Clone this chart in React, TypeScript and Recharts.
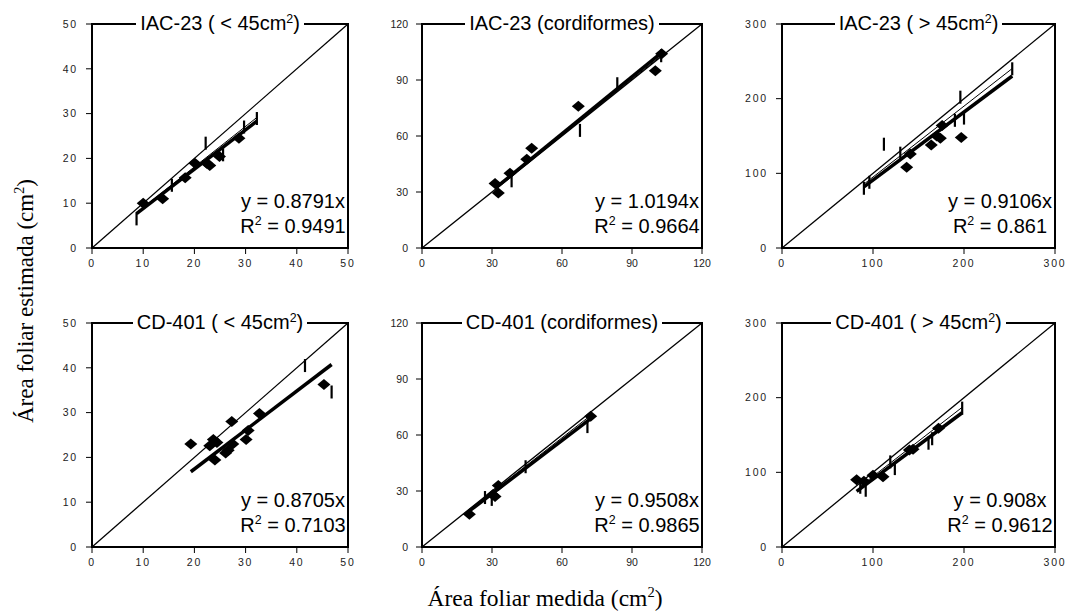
import React from "react";
import {
  ComposedChart,
  Scatter,
  XAxis,
  YAxis,
  ReferenceLine,
  ReferenceArea,
} from "recharts";

type Pt = { x: number; y: number };

// IAC-23, folhas < 45 cm2
const iacSmallLeaves: Pt[] = [
  { x: 10, y: 10 }, { x: 13.8, y: 11 }, { x: 18.2, y: 15.7 }, { x: 20.1, y: 18.9 },
  { x: 22.4, y: 18.9 }, { x: 23, y: 18.4 }, { x: 24.9, y: 20.4 }, { x: 28.7, y: 24.5 },
];
const iacSmallMarks: Pt[] = [
  { x: 8.7, y: 6.5 }, { x: 15.6, y: 14 }, { x: 22.2, y: 23.4 }, { x: 25.6, y: 20.8 },
  { x: 29.7, y: 27 }, { x: 32.2, y: 28.9 },
];

// IAC-23, cordiformes
const iacHeartLeaves: Pt[] = [
  { x: 31.3, y: 34.5 }, { x: 32.7, y: 29.5 }, { x: 37.7, y: 40 }, { x: 44.9, y: 47.5 },
  { x: 47, y: 53.5 }, { x: 67, y: 76 }, { x: 100, y: 95 }, { x: 102.7, y: 104 },
];
const iacHeartMarks: Pt[] = [
  { x: 38.4, y: 36 }, { x: 67.7, y: 63 }, { x: 83.7, y: 88 }, { x: 102.5, y: 103 },
];

// IAC-23, folhas > 45 cm2
const iacLargeLeaves: Pt[] = [
  { x: 137, y: 108 }, { x: 141, y: 126 }, { x: 164, y: 138 }, { x: 170, y: 150 },
  { x: 174, y: 147 }, { x: 176, y: 164 }, { x: 197, y: 148 },
];
const iacLargeMarks: Pt[] = [
  { x: 90, y: 80 }, { x: 96, y: 88 }, { x: 112, y: 139 }, { x: 130, y: 127 },
  { x: 190, y: 171 }, { x: 196, y: 202 }, { x: 200, y: 174 }, { x: 253, y: 240 },
];

// CD-401, folhas < 45 cm2
const cdSmallLeaves: Pt[] = [
  { x: 19.3, y: 23 }, { x: 23, y: 22.6 }, { x: 23.7, y: 24 }, { x: 24.4, y: 23.3 },
  { x: 24, y: 19.4 }, { x: 26.1, y: 21 }, { x: 26.6, y: 21.6 }, { x: 27.5, y: 23 },
  { x: 27.3, y: 28 }, { x: 30.1, y: 24 }, { x: 30.5, y: 26 }, { x: 32.7, y: 29.8 },
  { x: 45.3, y: 36.3 },
];
const cdSmallMarks: Pt[] = [
  { x: 41.6, y: 40.5 }, { x: 46.8, y: 34.6 },
];

// CD-401, cordiformes
const cdHeartLeaves: Pt[] = [
  { x: 20.3, y: 17.5 }, { x: 30.3, y: 28 }, { x: 31.3, y: 27 }, { x: 32.7, y: 33 },
  { x: 72.3, y: 70 },
];
const cdHeartMarks: Pt[] = [
  { x: 27, y: 26.5 }, { x: 29.9, y: 25.5 }, { x: 44.4, y: 43 }, { x: 70.9, y: 64.5 },
];

// CD-401, folhas > 45 cm2
const cdLargeLeaves: Pt[] = [
  { x: 82, y: 90 }, { x: 90, y: 88 }, { x: 100, y: 96 }, { x: 111, y: 94 },
  { x: 140, y: 130 }, { x: 144, y: 131 }, { x: 172, y: 159 },
];
const cdLargeMarks: Pt[] = [
  { x: 86, y: 80 }, { x: 92, y: 76 }, { x: 119, y: 114 }, { x: 124, y: 105 },
  { x: 161, y: 139 }, { x: 165, y: 145 }, { x: 198, y: 186 },
];

const titles = [
  "IAC-23 ( < 45cm²)",
  "IAC-23 (cordiformes)",
  "IAC-23 ( > 45cm²)",
  "CD-401 ( < 45cm²)",
  "CD-401 (cordiformes)",
  "CD-401 ( > 45cm²)",
];
const slopes = [0.8791, 1.0194, 0.9106, 0.8705, 0.9508, 0.908];
const markSlopes = [0.905, 1.005, 0.95, null, 0.975, 0.945];
const r2Values = ["0.9491", "0.9664", "0.861", "0.7103", "0.9865", "0.9612"];
const axisMax = [50, 120, 300, 50, 120, 300];
const ticks50 = [0, 10, 20, 30, 40, 50];
const ticks120 = [0, 30, 60, 90, 120];
const ticks300 = [0, 100, 200, 300];

const leafSets = [iacSmallLeaves, iacHeartLeaves, iacLargeLeaves, cdSmallLeaves, cdHeartLeaves, cdLargeLeaves];
const markSets = [iacSmallMarks, iacHeartMarks, iacLargeMarks, cdSmallMarks, cdHeartMarks, cdLargeMarks];

// plot frame of each panel: left, top, width, height
const frames = [
  [92, 24, 256, 224],
  [422, 24, 280, 224],
  [782, 24, 273, 224],
  [92, 323, 256, 224],
  [422, 323, 280, 224],
  [782, 323, 273, 224],
];

const Y_AXIS_W = 45;
const M = { top: 10, right: 10, left: 0, bottom: 0 };
const X_AXIS_H = 30;

function withSup(text: string) {
  const parts = text.split("²");
  return parts.map((p, i) => (
    <React.Fragment key={i}>
      {p}
      {i < parts.length - 1 && (
        <span style={{ fontSize: "0.62em", position: "relative", top: "-0.6em" }}>2</span>
      )}
    </React.Fragment>
  ));
}

function Diamond(props: any) {
  const { cx, cy } = props;
  if (cx == null || cy == null) return <g />;
  return (
    <polygon
      points={`${cx},${cy - 5.5} ${cx + 6.5},${cy} ${cx},${cy + 5.5} ${cx - 6.5},${cy}`}
      fill="#000"
    />
  );
}

function IMark(props: any) {
  const { cx, cy } = props;
  if (cx == null || cy == null) return <g />;
  return <line x1={cx} x2={cx} y1={cy - 6.5} y2={cy + 6.5} stroke="#000" strokeWidth={2.2} />;
}

function Panel({ idx }: { idx: number }) {
  const [left, top, w, h] = frames[idx];
  const max = axisMax[idx];
  const ticks = max === 50 ? ticks50 : max === 120 ? ticks120 : ticks300;
  const spaced = max !== 120;
  const leaves = leafSets[idx];
  const marks = markSets[idx];
  const all = leaves.concat(marks);
  const xMin = Math.min(...all.map((p) => p.x));
  const xMax = Math.max(...all.map((p) => p.x));
  const k = slopes[idx];
  const k2 = markSlopes[idx];
  const mMin = Math.min(...marks.map((p) => p.x));
  const mMax = Math.max(...marks.map((p) => p.x));
  const tickStyle = {
    fontSize: 10.5,
    fill: "#222",
    fontFamily: "'Liberation Sans', Arial, sans-serif",
    letterSpacing: spaced ? 1.8 : 0,
  };

  return (
    <>
      <div style={{ position: "absolute", left: left - Y_AXIS_W - M.left, top: top - M.top }}>
        <ComposedChart
          width={Y_AXIS_W + w + M.right}
          height={M.top + h + X_AXIS_H}
          margin={M}
        >
          <XAxis
            type="number"
            dataKey="x"
            domain={[0, max]}
            ticks={ticks}
            interval={0}
            height={X_AXIS_H}
            tick={tickStyle}
            tickSize={6}
            tickMargin={6}
            axisLine={{ stroke: "#000", strokeWidth: 2 }}
            tickLine={{ stroke: "#000" }}
          />
          <YAxis
            type="number"
            dataKey="y"
            domain={[0, max]}
            ticks={ticks}
            interval={0}
            width={Y_AXIS_W}
            tick={tickStyle}
            tickSize={6}
            tickMargin={8}
            axisLine={{ stroke: "#000", strokeWidth: 2 }}
            tickLine={{ stroke: "#000" }}
          />
          <ReferenceArea x1={0} x2={max} y1={0} y2={max} fill="none" stroke="#000" strokeWidth={2} />
          <ReferenceLine segment={[{ x: 0, y: 0 }, { x: max, y: max }]} stroke="#000" strokeWidth={1.3} />
          {k2 != null && (
            <ReferenceLine
              segment={[{ x: mMin, y: k2 * mMin }, { x: mMax, y: k2 * mMax }]}
              stroke="#000"
              strokeWidth={1}
            />
          )}
          <ReferenceLine
            segment={[{ x: xMin, y: k * xMin }, { x: xMax, y: k * xMax }]}
            stroke="#000"
            strokeWidth={3.5}
          />
          <Scatter data={leaves} shape={<Diamond />} isAnimationActive={false} />
          <Scatter data={marks} shape={<IMark />} isAnimationActive={false} />
        </ComposedChart>
      </div>
      <div
        style={{
          position: "absolute",
          left: left + w / 2 - 110,
          width: 220,
          top: top - 12,
          textAlign: "center",
          lineHeight: "22px",
          fontSize: 20,
          fontFamily: "'Liberation Sans', Arial, sans-serif",
        }}
      >
        <span style={{ background: "#fff", padding: "0 4px" }}>{withSup(titles[idx])}</span>
      </div>
      <div
        style={{
          position: "absolute",
          left: left + w - 55 - 80,
          width: 160,
          top: top + h - 59.5,
          textAlign: "center",
          lineHeight: "25px",
          fontSize: 20,
          fontFamily: "'Liberation Sans', Arial, sans-serif",
        }}
      >
        <div>{`y = ${k}x`}</div>
        <div>{withSup(`R² = ${r2Values[idx]}`)}</div>
      </div>
    </>
  );
}

export default function App() {
  return (
    <div
      style={{
        position: "absolute",
        left: 0,
        top: 0,
        width: 1070,
        height: 615,
        background: "#fff",
        overflow: "hidden",
      }}
    >
      {[0, 1, 2, 3, 4, 5].map((i) => (
        <Panel key={i} idx={i} />
      ))}
      <div
        style={{
          position: "absolute",
          left: 27 - 160,
          width: 320,
          top: 300 - 14,
          lineHeight: "28px",
          textAlign: "center",
          transform: "rotate(-90deg)",
          fontSize: 23,
          fontFamily: "'Liberation Serif', 'Times New Roman', serif",
        }}
      >
        {withSup("Área foliar estimada (cm²)")}
      </div>
      <div
        style={{
          position: "absolute",
          left: 545 - 160,
          width: 320,
          top: 598 - 14,
          lineHeight: "28px",
          textAlign: "center",
          fontSize: 23.5,
          fontFamily: "'Liberation Serif', 'Times New Roman', serif",
        }}
      >
        {withSup("Área foliar medida (cm²)")}
      </div>
    </div>
  );
}
